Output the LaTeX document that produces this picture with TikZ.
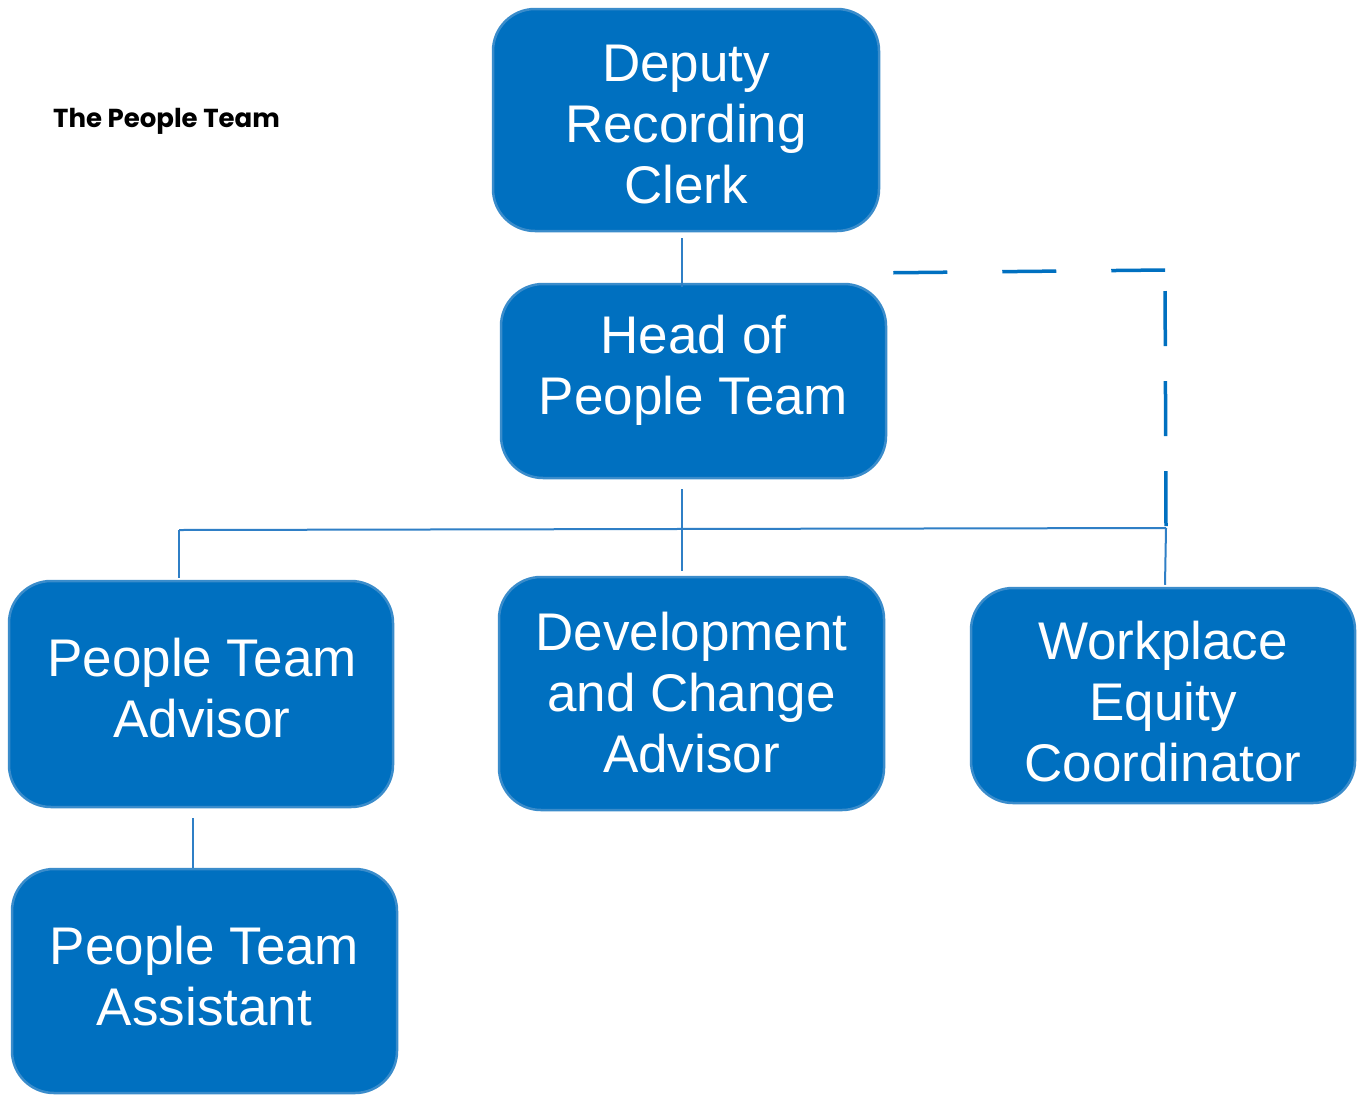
\documentclass[tikz,border=0pt]{standalone}
\usepackage{fontspec}
\setmainfont{Liberation Sans}
\newfontfamily\titlefont{Poppins}
\usetikzlibrary{calc}
\definecolor{boxblue}{HTML}{0070C0}
\definecolor{boxedge}{HTML}{3A8CCB}
\definecolor{linkblue}{HTML}{2F7FC6}
\definecolor{dashblue}{HTML}{0070C0}
\begin{document}
\begin{tikzpicture}[x=1pt,y=-1pt,
  orgbox/.style={draw=boxedge, line width=2.5pt, fill=boxblue, rounded corners=42pt, inner sep=0pt},
  boxtext/.style={text=white, align=center, inner sep=0pt,
    font=\fontsize{53}{61}\selectfont},
  link/.style={draw=linkblue, line width=2pt},
  dashlink/.style={draw=dashblue, line width=3.5pt, dash pattern=on 54pt off 55pt}]
\useasboundingbox (0,0) rectangle (1364,1095);
\fill[white] (0,0) rectangle (1364,1095);

\node[anchor=west, inner sep=0pt, font=\titlefont\bfseries\fontsize{26}{30}\selectfont] (title) at (53,121) {The People Team};

\node[orgbox, minimum width=386pt, minimum height=222pt] (deputy) at (686,120) {};
\node[orgbox, minimum width=385pt, minimum height=194pt] (head) at (693.5,381) {};
\node[orgbox, minimum width=384pt, minimum height=226pt] (adv) at (201,694) {};
\node[orgbox, minimum width=385pt, minimum height=233pt] (dev) at (691.5,693.5) {};
\node[orgbox, minimum width=384pt, minimum height=215pt] (wec) at (1163,695.5) {};
\node[orgbox, minimum width=385pt, minimum height=224pt] (asst) at (204.5,981) {};

\node[boxtext] (deputyt) at ($(deputy)+(0,5)$) {Deputy\\Recording\\Clerk};
\node[boxtext] (headt) at ($(head)+(0,-11)$) {Head of\\People Team};
\node[boxtext] (advt) at ($(adv)+(1,-6)$) {People Team\\Advisor};
\node[boxtext] (devt) at ($(dev)+(0,-1)$) {Development\\and Change\\Advisor};
\node[boxtext] (wect) at ($(wec)+(0,6)$) {Workplace\\Equity\\Coordinator};
\node[boxtext] (asstt) at ($(asst)+(0,-5)$) {People Team\\Assistant};

\coordinate (jl) at (179,530);
\coordinate (jr) at (1166,528);
\coordinate (dstart) at ($(head.north east)+(6,-10)$);
\coordinate (dcorner) at (1165,270);

\draw[link] ($(deputy.south)+(-4,6)$) -- ($(head.north)+(-11.5,4)$);
\draw[link] ($(head.south)+(-11.5,10)$) -- ($(dev.north)+(-9.5,-5)$);
\draw[link] (jl) -- (jr);
\draw[link] (jl) -- ($(adv.north)+(-22,-2)$);
\draw[link] (jr) -- ($(wec.north)+(2,-2)$);
\draw[link] ($(adv.south)+(-8,10)$) -- ($(asst.north)+(-11.5,0)$);

\draw[dashlink] (dstart) -- (dcorner);
\draw[dashlink, dash pattern=on 55pt off 35pt, dash phase=69pt] (dcorner) -- (jr);
\end{tikzpicture}
\end{document}
